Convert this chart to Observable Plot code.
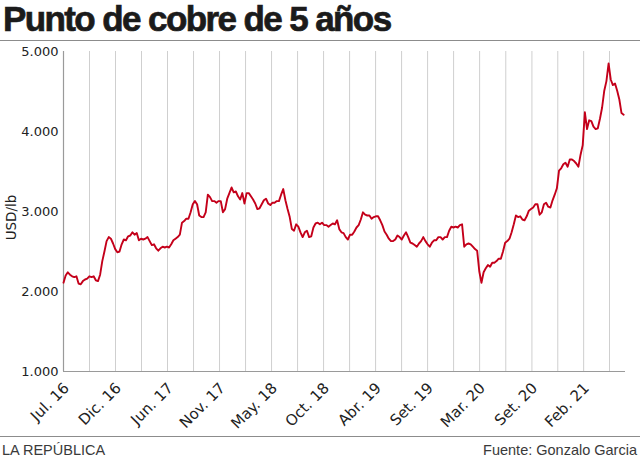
<!DOCTYPE html>
<html>
<head>
<meta charset="utf-8">
<script src="https://cdn.jsdelivr.net/npm/d3@7"></script>
<script src="https://cdn.jsdelivr.net/npm/@observablehq/plot@0.6"></script>
<style>
  html, body { margin: 0; padding: 0; background: #fff; }
  body { width: 640px; height: 466px; overflow: hidden; font-family: "DejaVu Sans", sans-serif; }
  #titulo { height: 40px; border-bottom: 1.5px solid #8c8c8c; font-family: "Liberation Sans Narrow", sans-serif; font-weight: bold; font-size: 35px; line-height: 38px; padding-left: 3px; color: #1b1b1b; white-space: nowrap; letter-spacing: -1.6px; -webkit-text-stroke: 0.7px #1b1b1b; overflow: visible; }
  #grafico svg { display: block; }
  #pie { border-top: 1.5px solid #8c8c8c; display: flex; justify-content: space-between; font-family: "Liberation Sans Narrow", sans-serif; font-size: 14.5px; color: #3a3a3a; padding: 5px 3px 0 2px; }
</style>
</head>
<body>
<div id="titulo">Punto de cobre de 5 años</div>
<div id="grafico"></div>
<div id="pie"><span>LA REPÚBLICA</span><span>Fuente: Gonzalo Garcia</span></div>
<script>
// Serie semanal (USD/lb x 1000), desde la primera semana de julio 2016
const inicioSerie = "2016-07-01";
const finEje = "2021-07-01";
const precio = [
  2110, 2200, 2240, 2210, 2190, 2180, 2190, 2100, 2090, 2130,
  2150, 2160, 2190, 2180, 2190, 2140, 2130, 2210, 2380, 2500,
  2630, 2680, 2660, 2600, 2530, 2490, 2500, 2590, 2650, 2640,
  2690, 2700, 2740, 2710, 2730, 2640, 2660, 2650, 2660, 2680,
  2630, 2580, 2590, 2540, 2510, 2540, 2560, 2550, 2560, 2550,
  2590, 2640, 2660, 2680, 2710, 2860, 2880, 2910, 2910, 2990,
  3090, 3130, 3090, 2950, 2930, 2930, 2990, 3210, 3180, 3130,
  3130, 3110, 3130, 3130, 2990, 3030, 3160, 3230, 3300, 3240,
  3250, 3190, 3150, 3230, 3100, 3230, 3230, 3190, 3150, 3100,
  3030, 3040, 3090, 3140, 3160, 3100, 3080, 3110, 3110, 3130,
  3130, 3210, 3280, 3140, 3030, 2930, 2780, 2760, 2840, 2810,
  2740, 2680, 2740, 2760, 2680, 2690, 2800, 2850, 2860, 2840,
  2860, 2830, 2830, 2810, 2830, 2850, 2840, 2890, 2780, 2740,
  2730, 2680, 2650, 2710, 2710, 2750, 2800, 2830, 2900, 2990,
  2960, 2950, 2950, 2910, 2930, 2940, 2940, 2890, 2830, 2750,
  2710, 2660, 2630, 2630, 2650, 2700, 2680, 2650, 2700, 2740,
  2680, 2610, 2600, 2580, 2560, 2600, 2630, 2680, 2630, 2590,
  2560, 2610, 2640, 2640, 2680, 2680, 2650, 2680, 2680, 2760,
  2810, 2800, 2810, 2800, 2830, 2840, 2560, 2590, 2600, 2590,
  2560, 2530, 2510, 2250, 2110, 2240, 2290, 2330, 2310, 2360,
  2360, 2380, 2410, 2410, 2500, 2610, 2630, 2660, 2740, 2840,
  2950, 2930, 2940, 2900, 2890, 2940, 3010, 3030, 3050, 3090,
  3090, 2960, 2990, 3090, 3110, 3060, 3050, 3140, 3210, 3290,
  3510, 3540, 3590, 3610, 3560, 3650, 3650, 3630, 3600, 3560,
  3710, 3830, 4240, 4030, 4140, 4130, 4060, 4030, 4040, 4160,
  4300, 4510, 4630, 4850, 4650, 4580, 4600, 4510, 4400, 4230,
  4210
];
// Etiquetas del eje X y sus fechas
const etiquetasX = ["Jul. 16", "Dic. 16", "Jun. 17", "Nov. 17", "May. 18", "Oct. 18", "Abr. 19", "Set. 19", "Mar. 20", "Set. 20", "Feb. 21"];
const fechasEtiquetasX = ["2016-07-01", "2016-12-17", "2017-06-04", "2017-11-20", "2018-05-08", "2018-10-24", "2019-04-11", "2019-09-27", "2020-03-14", "2020-08-31", "2021-02-15"];
const ticksY = [1000, 2000, 3000, 4000, 5000];
const tituloY = "USD/lb";

const t0 = new Date(inicioSerie);
const datos = precio.map((v, i) => ({fecha: d3.utcDay.offset(t0, 7 * i), precio: v}));
const fechasX = fechasEtiquetasX.map(s => new Date(s));
const nombrePorFecha = new Map(fechasX.map((d, i) => [+d, etiquetasX[i]]));
const lineasGuia = fechasX.flatMap((d, i) => {
  const sig = i < fechasX.length - 1 ? fechasX[i + 1] : new Date(2 * d - fechasX[i - 1]);
  return [d, new Date((+d + +sig) / 2)];
});
const fmtY = d => d3.format(",")(d).replace(",", ".");

const chart = Plot.plot({
  width: 640,
  height: 395,
  marginTop: 10,
  marginLeft: 63,
  marginRight: 15,
  marginBottom: 65,
  style: {fontFamily: "DejaVu Sans", fontSize: "13px", color: "#222", background: "#fff"},
  x: {type: "utc", domain: [new Date(inicioSerie), new Date(finEje)]},
  y: {domain: [1000, 5000]},
  marks: [
    Plot.ruleX(lineasGuia, {stroke: "#cfcfcf", strokeWidth: 1}),
    Plot.axisY({ticks: ticksY, tickSize: 0, tickPadding: 5, tickFormat: fmtY, label: null, fontSize: 13}),
    Plot.text([tituloY], {frameAnchor: "left", textAnchor: "middle", rotate: -90, dx: -52, dy: 6, fontSize: 13.5, fill: "#222"}),
    Plot.axisX({ticks: fechasX, tickFormat: d => nombrePorFecha.get(+d), tickRotate: -45, tickSize: 0, tickPadding: 9, dx: 3, dy: 5, label: null, fontSize: 15}),
    Plot.ruleX([new Date(inicioSerie)], {stroke: "#9a9a9a", strokeWidth: 1.2}),
    Plot.ruleY([1000], {stroke: "#9a9a9a", strokeWidth: 1.2}),
    Plot.lineY(datos, {x: "fecha", y: "precio", stroke: "#c4001a", strokeWidth: 1.9, strokeLinejoin: "round"})
  ]
});
document.getElementById("grafico").appendChild(chart);
</script>
</body>
</html>
